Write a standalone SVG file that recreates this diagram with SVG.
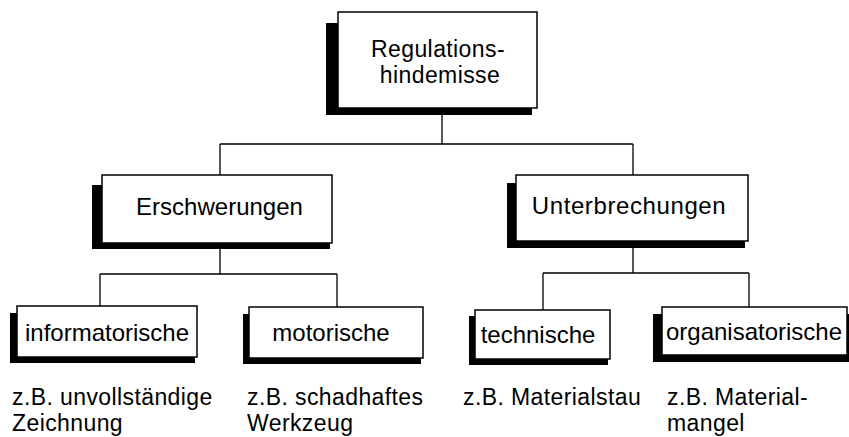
<svg xmlns="http://www.w3.org/2000/svg" width="849" height="437" viewBox="0 0 849 437">
<style>
.sh{fill:#000}
.bx{fill:#fff;stroke:#000;stroke-width:1.5}
.t{font-family:"Liberation Sans",Arial,sans-serif;font-size:24px;fill:#000;text-anchor:middle}
.t2{font-family:"Liberation Sans",Arial,sans-serif;font-size:23px;fill:#000;text-anchor:middle;letter-spacing:0.4px}
.n{font-family:"Liberation Sans",Arial,sans-serif;font-size:23px;fill:#000;letter-spacing:0.4px}
.c{fill:none;stroke:#000;stroke-width:1.3}
</style>
<rect width="849" height="437" fill="#fff"/>
<g id="connectors">
<path class="c" d="M442,115 V144 M220,144 H633 M220,144 V175 M633,144 V175"/>
<path class="c" d="M220,249 V274 M100,274 H337 M100,274 V306 M337,274 V307"/>
<path class="c" d="M633,248 V273 M543,273 H749 M543,273 V310 M749,273 V307"/>
</g>
<g id="regulationshindernisse">
<rect class="sh" x="326" y="23" width="206" height="92"/>
<rect class="bx" x="338" y="12" width="199" height="96"/>
<text class="t2" x="438" y="57">Regulations-</text>
<text class="t2" x="440" y="83">hindemisse</text>
</g>
<g id="erschwerungen">
<rect class="sh" x="92" y="185" width="238" height="64"/>
<rect class="bx" x="102" y="175" width="230" height="68"/>
<text class="t" x="219.5" y="215">Erschwerungen</text>
</g>
<g id="unterbrechungen">
<rect class="sh" x="507" y="183" width="238" height="65"/>
<rect class="bx" x="516" y="175" width="232" height="66"/>
<text class="t" x="629" y="214" style="letter-spacing:0.6px">Unterbrechungen</text>
</g>
<g id="informatorische">
<rect class="sh" x="10" y="313" width="185" height="50"/>
<rect class="bx" x="17" y="306" width="180" height="51"/>
<text class="t" x="107" y="341">informatorische</text>
</g>
<g id="motorische">
<rect class="sh" x="243" y="314" width="178" height="50"/>
<rect class="bx" x="249" y="307" width="174" height="51"/>
<text class="t" x="331" y="341">motorische</text>
</g>
<g id="technische">
<rect class="sh" x="469" y="316" width="139" height="49"/>
<rect class="bx" x="475" y="310" width="135" height="49"/>
<text class="t" x="538" y="343">technische</text>
</g>
<g id="organisatorische">
<rect class="sh" x="653" y="314" width="196" height="48"/>
<rect class="bx" x="662" y="307" width="185" height="48"/>
<text class="t" x="754" y="340">organisatorische</text>
</g>
<g id="beispiele">
<text class="n" x="12" y="405">z.B. unvollständige</text>
<text class="n" x="12" y="431">Zeichnung</text>
<text class="n" x="247" y="405">z.B. schadhaftes</text>
<text class="n" x="247" y="431">Werkzeug</text>
<text class="n" x="463" y="405">z.B. Materialstau</text>
<text class="n" x="667" y="405">z.B. Material-</text>
<text class="n" x="667" y="431">mangel</text>
</g>
</svg>
